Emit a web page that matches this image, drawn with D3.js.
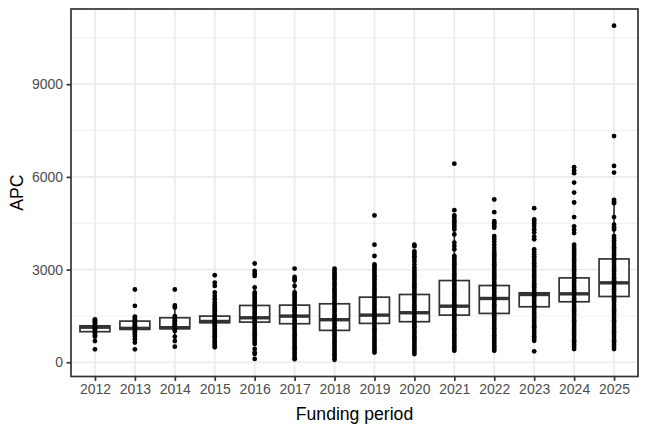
<!DOCTYPE html>
<html>
<head>
<meta charset="utf-8">
<script src="https://cdn.jsdelivr.net/npm/d3@7"></script>
<style>
html,body{margin:0;padding:0;background:#fff;}
svg{display:block;}
text{font-family:"Liberation Sans",Arial,Helvetica,sans-serif;}
</style>
</head>
<body>
<svg id="chart" width="648" height="432"></svg>
<script>
// ---- data ----
const years = ["2012","2013","2014","2015","2016","2017","2018","2019","2020","2021","2022","2023","2024","2025"];

// box statistics per funding period
const q1Values     = [990, 1065, 1087, 1280, 1300, 1248, 1032, 1258, 1313, 1526, 1581, 1796, 1958, 2129];
const medianValues = [1135, 1097, 1119, 1320, 1440, 1494, 1377, 1526, 1603, 1816, 2065, 2194, 2215, 2571];
const q3Values     = [1180, 1332, 1442, 1494, 1839, 1849, 1893, 2107, 2194, 2645, 2484, 2248, 2731, 3345];

// individual APC observations per funding period
const apc2012 = [419, 687, 829, 870, 925, 965, 1005, 1045, 1080, 1115, 1145, 1175, 1210, 1245, 1285, 1320, 1355, 1390];
const apc2013 = [419, 636, 745, 830, 900, 960, 1010, 1050, 1090, 1125, 1160, 1200, 1245, 1290, 1340, 1385, 1435, 1480, 1826, 2355];
const apc2014 = [506, 687, 829, 1010, 1060, 1100, 1140, 1185, 1230, 1270, 1315, 1360, 1405, 1450, 1494, 1770, 1840, 2355];
const apc2015 = [484, 540, 600, 665, 720, 785, 840, 905, 960, 1020, 1085, 1140, 1200, 1255, 1310, 1365, 1415, 1465, 1515, 1570, 1625, 1680, 1745, 1800, 1865, 1936, 2040, 2149, 2258, 2471, 2581, 2817];
const apc2016 = [107, 268, 323, 430, 590, 655, 725, 790, 865, 930, 1000, 1075, 1140, 1215, 1280, 1350, 1425, 1490, 1565, 1630, 1700, 1775, 1840, 1915, 1980, 2055, 2120, 2190, 2258, 2420, 2794, 2870, 2955, 3197];
const apc2017 = [100, 165, 240, 305, 380, 450, 515, 590, 660, 725, 800, 870, 935, 1010, 1080, 1145, 1220, 1290, 1355, 1430, 1500, 1565, 1640, 1710, 1775, 1850, 1920, 1985, 2060, 2130, 2195, 2258, 2470, 2650, 2705, 2760, 3032];
const apc2018 = [80, 150, 225, 290, 365, 435, 500, 575, 645, 710, 785, 855, 920, 995, 1065, 1130, 1205, 1275, 1340, 1415, 1485, 1550, 1625, 1695, 1760, 1835, 1905, 1970, 2045, 2115, 2180, 2255, 2325, 2390, 2465, 2535, 2600, 2675, 2745, 2810, 2885, 2955, 3032];
const apc2019 = [313, 385, 455, 530, 600, 670, 745, 815, 885, 960, 1030, 1100, 1175, 1245, 1315, 1390, 1460, 1530, 1605, 1675, 1745, 1820, 1890, 1960, 2035, 2105, 2175, 2250, 2320, 2390, 2465, 2535, 2605, 2680, 2750, 2820, 2895, 2965, 3035, 3100, 3171, 3439, 3806, 4752];
const apc2020 = [268, 340, 410, 485, 555, 625, 700, 770, 840, 915, 985, 1055, 1130, 1200, 1270, 1345, 1415, 1485, 1560, 1630, 1700, 1775, 1845, 1915, 1990, 2060, 2130, 2205, 2275, 2345, 2420, 2490, 2560, 2635, 2705, 2775, 2850, 2920, 2990, 3065, 3161, 3268, 3350, 3430, 3510, 3591, 3752, 3806];
const apc2021 = [374, 445, 515, 590, 660, 730, 805, 875, 945, 1020, 1090, 1160, 1235, 1305, 1375, 1450, 1520, 1590, 1665, 1735, 1805, 1880, 1950, 2020, 2095, 2165, 2235, 2310, 2380, 2450, 2525, 2595, 2665, 2740, 2810, 2880, 2955, 3025, 3095, 3170, 3240, 3310, 3385, 3439, 3655, 3760, 3871, 4139, 4300, 4380, 4455, 4530, 4600, 4680, 4752, 4923, 6429];
const apc2022 = [374, 445, 520, 590, 660, 735, 805, 875, 950, 1020, 1090, 1165, 1235, 1305, 1380, 1450, 1520, 1595, 1665, 1735, 1810, 1880, 1950, 2025, 2095, 2165, 2240, 2310, 2380, 2455, 2525, 2595, 2670, 2740, 2810, 2885, 2955, 3025, 3100, 3170, 3240, 3315, 3385, 3455, 3530, 3600, 3700, 3800, 3900, 3990, 4084, 4355, 4430, 4500, 4568, 4858, 5269];
const apc2023 = [355, 697, 770, 840, 915, 985, 1055, 1130, 1200, 1270, 1345, 1415, 1485, 1560, 1630, 1700, 1775, 1845, 1915, 1990, 2060, 2130, 2205, 2275, 2345, 2420, 2490, 2560, 2635, 2705, 2775, 2850, 2920, 2990, 3065, 3135, 3205, 3280, 3350, 3420, 3495, 3570, 3655, 3978, 4070, 4200, 4300, 4407, 4480, 4550, 4623, 4987];
const apc2024 = [429, 500, 570, 645, 715, 785, 860, 930, 1000, 1075, 1145, 1215, 1290, 1360, 1430, 1505, 1575, 1645, 1720, 1790, 1860, 1935, 2005, 2075, 2150, 2220, 2290, 2365, 2435, 2505, 2580, 2650, 2720, 2795, 2865, 2935, 3010, 3080, 3150, 3225, 3295, 3365, 3440, 3510, 3580, 3655, 3730, 3806, 4183, 4290, 4399, 4700, 5172, 5494, 5817, 6119, 6210, 6313];
const apc2025 = [429, 500, 570, 645, 715, 785, 860, 930, 1000, 1075, 1145, 1215, 1290, 1360, 1430, 1505, 1575, 1645, 1720, 1790, 1860, 1935, 2005, 2075, 2150, 2220, 2290, 2365, 2435, 2505, 2580, 2650, 2720, 2795, 2865, 2935, 3010, 3080, 3150, 3225, 3295, 3365, 3440, 3510, 3580, 3655, 3725, 3795, 3870, 3940, 4010, 4084, 4300, 4370, 4452, 4700, 5151, 5200, 5258, 6140, 6355, 7323, 10894];

const pointValues = [apc2012, apc2013, apc2014, apc2015, apc2016, apc2017, apc2018, apc2019, apc2020, apc2021, apc2022, apc2023, apc2024, apc2025];

const yTicks = [0, 3000, 6000, 9000];
const yMinorTicks = [1500, 4500, 7500, 10500];
const xTitle = "Funding period";
const yTitle = "APC";

// ---- layout ----
const svg = d3.select("#chart");
const panel = {left: 71, right: 638, top: 9, bottom: 376.5};
const lw = 1.7;          // base line width
const grey20 = "#333333", grey30 = "#4D4D4D", grey92 = "#EBEBEB";

const x = d3.scalePoint().domain(years).range([panel.left, panel.right]).padding(0.6);
const allVals = pointValues.flat();
const vmin = d3.min(allVals), vmax = d3.max(allVals);
const ext = (vmax - vmin) * 0.05;
const y = d3.scaleLinear().domain([vmin - ext, vmax + ext]).range([panel.bottom, panel.top]);

// panel background + grid
svg.append("rect").attr("x", panel.left).attr("y", panel.top)
  .attr("width", panel.right - panel.left).attr("height", panel.bottom - panel.top).attr("fill", "#fff");
const grid = svg.append("g");
grid.selectAll(".ymin").data(yMinorTicks).join("line")
  .attr("x1", panel.left).attr("x2", panel.right)
  .attr("y1", d => y(d)).attr("y2", d => y(d))
  .attr("stroke", grey92).attr("stroke-width", lw / 2);
grid.selectAll(".ymaj").data(yTicks).join("line")
  .attr("x1", panel.left).attr("x2", panel.right)
  .attr("y1", d => y(d)).attr("y2", d => y(d))
  .attr("stroke", grey92).attr("stroke-width", lw);
grid.selectAll(".xmaj").data(years).join("line")
  .attr("x1", d => x(d)).attr("x2", d => x(d))
  .attr("y1", panel.top).attr("y2", panel.bottom)
  .attr("stroke", grey92).attr("stroke-width", lw);

// boxplots
const boxW = x.step() * 0.75;
const boxes = years.map((yr, i) => {
  const q1 = q1Values[i], q3 = q3Values[i], iqr = q3 - q1;
  const vals = pointValues[i];
  const lo = d3.min(vals.filter(v => v >= q1 - 1.5 * iqr));
  const hi = d3.max(vals.filter(v => v <= q3 + 1.5 * iqr));
  return {yr, q1, q3, med: medianValues[i], lo, hi};
});
const bg = svg.append("g");
bg.selectAll(".wu").data(boxes).join("line")
  .attr("x1", d => x(d.yr)).attr("x2", d => x(d.yr))
  .attr("y1", d => y(d.q3)).attr("y2", d => y(d.hi))
  .attr("stroke", grey20).attr("stroke-width", lw);
bg.selectAll(".wl").data(boxes).join("line")
  .attr("x1", d => x(d.yr)).attr("x2", d => x(d.yr))
  .attr("y1", d => y(d.q1)).attr("y2", d => y(d.lo))
  .attr("stroke", grey20).attr("stroke-width", lw);
bg.selectAll("rect").data(boxes).join("rect")
  .attr("x", d => x(d.yr) - boxW / 2).attr("width", boxW)
  .attr("y", d => y(d.q3)).attr("height", d => y(d.q1) - y(d.q3))
  .attr("fill", "#fff").attr("stroke", grey20).attr("stroke-width", lw);
bg.selectAll(".med").data(boxes).join("line")
  .attr("x1", d => x(d.yr) - boxW / 2).attr("x2", d => x(d.yr) + boxW / 2)
  .attr("y1", d => y(d.med)).attr("y2", d => y(d.med))
  .attr("stroke", grey20).attr("stroke-width", lw * 2);

// points
const pts = years.flatMap((yr, i) => pointValues[i].map(v => ({yr, v})));
svg.append("g").selectAll("circle").data(pts).join("circle")
  .attr("cx", d => x(d.yr)).attr("cy", d => y(d.v)).attr("r", 2.4)
  .attr("fill", "#000");

// panel border
svg.append("rect").attr("x", panel.left).attr("y", panel.top)
  .attr("width", panel.right - panel.left).attr("height", panel.bottom - panel.top)
  .attr("fill", "none").attr("stroke", grey20).attr("stroke-width", lw);

// axes
const yAxis = svg.append("g").attr("transform", `translate(${panel.left},0)`)
  .call(d3.axisLeft(y).tickValues(yTicks).tickSize(4.4).tickPadding(3.5).tickFormat(d3.format("d")));
const xAxis = svg.append("g").attr("transform", `translate(0,${panel.bottom})`)
  .call(d3.axisBottom(x).tickSize(4.4).tickPadding(3.5));
[yAxis, xAxis].forEach(a => {
  a.select(".domain").remove();
  a.selectAll(".tick line").attr("stroke", grey20).attr("stroke-width", lw);
  a.selectAll(".tick text").attr("fill", grey30).style("font-size", "14px")
    .style("font-family", "'Liberation Sans', Arial, Helvetica, sans-serif");
});

// titles
svg.append("text").attr("x", (panel.left + panel.right) / 2).attr("y", 420)
  .attr("text-anchor", "middle").style("font-size", "17.6px").attr("fill", "#000").text(xTitle);
svg.append("text").attr("transform", `translate(23,${(panel.top + panel.bottom) / 2}) rotate(-90)`)
  .attr("text-anchor", "middle").style("font-size", "17.6px").attr("fill", "#000").text(yTitle);
</script>
</body>
</html>
